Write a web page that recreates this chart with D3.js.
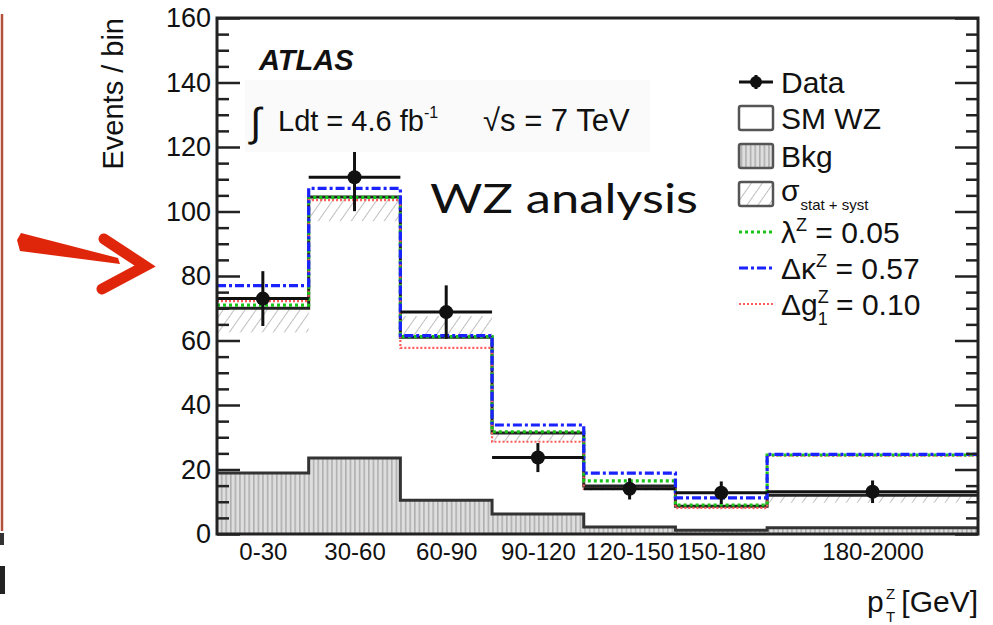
<!DOCTYPE html>
<html>
<head>
<meta charset="utf-8">
<script src="https://cdn.jsdelivr.net/npm/d3@7"></script>
<style>
  body { margin: 0; background: #fff; }
  svg { display: block; }
  text { font-family: "Liberation Sans", Arial, sans-serif; fill: #111; }
</style>
</head>
<body>
<div id="svg"></div>
<script>
// bins (drawn as equal width, except the last overflow bin)
var binLabels = ["0-30", "30-60", "60-90", "90-120", "120-150", "150-180", "180-2000"];
var binEdges  = [0, 1, 2, 3, 4, 5, 6, 8.3];

// values
var dataVals = [73, 110.6, 68.8, 23.7, 14, 12.8, 13.1];
var dataErr  = [8.5, 10.5, 8.3, 4.5, 3.3, 3.5, 3.5];
var smWZ     = [70, 104.5, 61, 31.3, 14.9, 8.6, 12];
var bkg      = [18.9, 23.6, 10.5, 6.2, 2.2, 1.2, 1.9];
var sigLow   = [62.5, 97, 61, 28.5, 13.5, 7.6, 9.7];
var sigHigh  = [70, 104.5, 67.6, 31.3, 15, 8.6, 11.8];
var lambdaZ  = [71, 104.4, 61.2, 31.7, 16.5, 9.0, 24.5];
var kappaZ   = [77, 107.2, 61.5, 33.8, 18.9, 11.2, 24.7];
var g1Z      = [72.2, 103.5, 57.7, 28.6, 14.0, 8.1, 24.3];

var yTicks = [0, 20, 40, 60, 80, 100, 120, 140, 160];

var width = 993, height = 625;
var frame = {left: 217, right: 978, top: 18, bottom: 534};

var svg = d3.select("#svg").append("svg")
    .attr("width", width)
    .attr("height", height);

var defs = svg.append("defs");

// vertical stripes for background
var pb = defs.append("pattern").attr("id", "bkgPat")
    .attr("patternUnits", "userSpaceOnUse")
    .attr("width", 4.6).attr("height", 10);
pb.append("rect").attr("width", 4.6).attr("height", 10).attr("fill", "#dedede");
pb.append("line").attr("x1", 0.8).attr("x2", 0.8).attr("y1", 0).attr("y2", 10)
    .attr("stroke", "#a8a8a8").attr("stroke-width", 1.4);

// diagonal hatch for the uncertainty band
var ph = defs.append("pattern").attr("id", "hatchPat")
    .attr("patternUnits", "userSpaceOnUse")
    .attr("width", 9).attr("height", 9)
    .attr("patternTransform", "rotate(35)");
ph.append("line").attr("x1", 0).attr("x2", 0).attr("y1", 0).attr("y2", 9)
    .attr("stroke", "#aaa").attr("stroke-width", 1.5);

var x = d3.scaleLinear()
    .domain([binEdges[0], binEdges[binEdges.length - 1]])
    .range([frame.left, frame.right]);

var y = d3.scaleLinear()
    .domain([0, 160])
    .range([frame.bottom, frame.top]);

// step points: one per bin edge, last value repeated
function steps(vals) {
    var pts = vals.map(function(v, i) { return [binEdges[i], v]; });
    pts.push([binEdges[binEdges.length - 1], vals[vals.length - 1]]);
    return pts;
}

var stepLine = d3.line()
    .x(function(d) { return x(d[0]); })
    .y(function(d) { return y(d[1]); })
    .curve(d3.curveStepAfter);

var stepArea = d3.area()
    .x(function(d) { return x(d[0]); })
    .y0(y(0))
    .y1(function(d) { return y(d[1]); })
    .curve(d3.curveStepAfter);

var plot = svg.append("g");

// background
plot.append("path")
    .datum(steps(bkg))
    .attr("d", stepArea)
    .attr("fill", "url(#bkgPat)");
plot.append("path")
    .datum(steps(bkg))
    .attr("d", stepLine)
    .attr("fill", "none")
    .attr("stroke", "#333")
    .attr("stroke-width", 3);

// stat + syst band
plot.selectAll(".band")
    .data(binLabels)
    .enter().append("rect")
    .attr("class", "band")
    .attr("x", function(d, i) { return x(binEdges[i]); })
    .attr("width", function(d, i) { return x(binEdges[i + 1]) - x(binEdges[i]); })
    .attr("y", function(d, i) { return y(sigHigh[i]); })
    .attr("height", function(d, i) { return y(sigLow[i]) - y(sigHigh[i]); })
    .attr("fill", "url(#hatchPat)");

// SM WZ
plot.append("path")
    .datum(steps(smWZ))
    .attr("d", stepLine)
    .attr("fill", "none")
    .attr("stroke", "#222")
    .attr("stroke-width", 3);

var anomalous = [
    {vals: g1Z, color: "#ff5a5a", w: 2.2, dash: "2,2"},
    {vals: lambdaZ, color: "#19c419", w: 3.2, dash: "3,3"},
    {vals: kappaZ, color: "#1a22ff", w: 3.2, dash: "9,3,3,3"}
];
anomalous.forEach(function(s) {
    plot.append("path")
        .datum(steps(s.vals))
        .attr("d", stepLine)
        .attr("fill", "none")
        .attr("stroke", s.color)
        .attr("stroke-width", s.w)
        .attr("stroke-dasharray", s.dash);
});

// data points
var pts = plot.selectAll(".pt")
    .data(dataVals)
    .enter().append("g")
    .attr("class", "pt");
pts.append("line")
    .attr("x1", function(d, i) { return x(binEdges[i]); })
    .attr("x2", function(d, i) { return x(binEdges[i + 1]); })
    .attr("y1", function(d) { return y(d); })
    .attr("y2", function(d) { return y(d); })
    .attr("stroke", "#111").attr("stroke-width", 3);
pts.append("line")
    .attr("x1", function(d, i) { return x((binEdges[i] + binEdges[i + 1]) / 2); })
    .attr("x2", function(d, i) { return x((binEdges[i] + binEdges[i + 1]) / 2); })
    .attr("y1", function(d, i) { return y(d + dataErr[i]); })
    .attr("y2", function(d, i) { return y(d - dataErr[i]); })
    .attr("stroke", "#111").attr("stroke-width", 3);
pts.append("circle")
    .attr("cx", function(d, i) { return x((binEdges[i] + binEdges[i + 1]) / 2); })
    .attr("cy", function(d) { return y(d); })
    .attr("r", 7)
    .attr("fill", "#111");

// luminosity box drawn over the histos, like the pave in the original
svg.append("rect")
    .attr("x", 245).attr("y", 80)
    .attr("width", 405).attr("height", 72)
    .attr("fill", "#fafafa");

// axes
var minorTicks = d3.range(0, 161, 5).filter(function(v) { return v % 20 !== 0; });

var yAxis = svg.append("g")
    .attr("transform", "translate(" + frame.left + ",0)")
    .call(d3.axisLeft(y).tickValues(yTicks).tickSize(-23).tickPadding(6));
yAxis.selectAll("text").style("font-size", "27px").attr("fill", "#111")
    .style("font-family", "Liberation Sans, Arial, sans-serif");
svg.append("g")
    .attr("transform", "translate(" + frame.left + ",0)")
    .call(d3.axisLeft(y).tickValues(minorTicks).tickSize(-12).tickFormat(""));
svg.append("g")
    .attr("transform", "translate(" + frame.right + ",0)")
    .call(d3.axisRight(y).tickValues(yTicks).tickSize(-23).tickFormat(""));
svg.append("g")
    .attr("transform", "translate(" + frame.right + ",0)")
    .call(d3.axisRight(y).tickValues(minorTicks).tickSize(-12).tickFormat(""));

var centers = binLabels.map(function(d, i) { return (binEdges[i] + binEdges[i + 1]) / 2; });
var xAxis = svg.append("g")
    .attr("transform", "translate(0," + frame.bottom + ")")
    .call(d3.axisBottom(x).tickValues(centers).tickSize(0).tickPadding(9)
        .tickFormat(function(d, i) { return binLabels[i]; }));
xAxis.selectAll("text").style("font-size", "24px").attr("fill", "#111")
    .style("font-family", "Liberation Sans, Arial, sans-serif");

svg.selectAll(".domain").remove();
svg.selectAll(".tick line").attr("stroke", "#222").attr("stroke-width", 2.5);

svg.append("rect")
    .attr("x", frame.left).attr("y", frame.top)
    .attr("width", frame.right - frame.left)
    .attr("height", frame.bottom - frame.top)
    .attr("fill", "none")
    .attr("stroke", "#222")
    .attr("stroke-width", 3);

// axis titles
svg.append("text")
    .attr("transform", "translate(123,18) rotate(-90)")
    .attr("text-anchor", "end")
    .style("font-size", "29px")
    .text("Events / bin");

svg.append("text").attr("x", 867).attr("y", 612).style("font-size", "30px").text("p");
svg.append("text").attr("x", 886).attr("y", 599).style("font-size", "15px").text("Z");
svg.append("text").attr("x", 886).attr("y", 622).style("font-size", "15px").text("T");
svg.append("text").attr("x", 978).attr("y", 612).attr("text-anchor", "end")
    .style("font-size", "30px").text("[GeV]");

// ATLAS label
svg.append("text").attr("x", 259).attr("y", 70)
    .style("font-size", "29px").style("font-weight", "bold").style("font-style", "italic")
    .text("ATLAS");

svg.append("text").attr("x", 250).attr("y", 136).style("font-size", "40px").text("\u222B");
svg.append("text").attr("x", 278).attr("y", 131).style("font-size", "29px").text("Ldt = 4.6 fb");
svg.append("text").attr("x", 424).attr("y", 118).style("font-size", "16px").text("-1");
svg.append("text").attr("x", 483).attr("y", 131).style("font-size", "31px").text("\u221As = 7 TeV");

// legend
var lg = svg.append("g");
var lx0 = 739, lx1 = 773, tx = 781;

lg.append("line").attr("x1", lx0).attr("x2", lx1).attr("y1", 82).attr("y2", 82)
    .attr("stroke", "#111").attr("stroke-width", 3);
lg.append("line").attr("x1", 756).attr("x2", 756).attr("y1", 75).attr("y2", 89)
    .attr("stroke", "#111").attr("stroke-width", 3);
lg.append("circle").attr("cx", 756).attr("cy", 82).attr("r", 6).attr("fill", "#111");

var boxes = [
    {y: 118, fill: "#fff"},
    {y: 156, fill: "url(#bkgPat)"},
    {y: 194, fill: "url(#hatchPat)"}
];
boxes.forEach(function(b) {
    lg.append("rect")
        .attr("x", lx0).attr("y", b.y - 12)
        .attr("width", lx1 - lx0).attr("height", 24)
        .attr("rx", 2)
        .attr("fill", b.fill)
        .attr("stroke", "#555").attr("stroke-width", 2.5);
});

var lineRows = [
    {y: 232, s: anomalous[1]},
    {y: 268, s: anomalous[2]},
    {y: 304, s: anomalous[0]}
];
lineRows.forEach(function(r) {
    lg.append("line").attr("x1", lx0).attr("x2", lx1).attr("y1", r.y).attr("y2", r.y)
        .attr("stroke", r.s.color).attr("stroke-width", r.s.w)
        .attr("stroke-dasharray", r.s.dash);
});

function legText(yc) {
    return lg.append("text").attr("x", tx).attr("y", yc + 11).style("font-size", "30px");
}
legText(82).text("Data");
legText(118).text("SM WZ");
legText(156).text("Bkg");
var sg = legText(190);
sg.append("tspan").text("\u03C3");
sg.append("tspan").style("font-size", "15px").attr("dy", 9).attr("dx", 1).text("stat + syst");

var t1 = legText(232);
t1.append("tspan").text("\u03BB");
t1.append("tspan").style("font-size", "18px").attr("dy", -12).text("Z");
t1.append("tspan").attr("dy", 12).text(" = 0.05");

var t2 = legText(268);
t2.append("tspan").text("\u0394\u03BA");
t2.append("tspan").style("font-size", "18px").attr("dy", -12).text("Z");
t2.append("tspan").attr("dy", 12).text(" = 0.57");

var t3 = legText(304);
t3.append("tspan").text("\u0394g");
t3.append("tspan").style("font-size", "18px").attr("dy", -12).text("Z");
t3.append("tspan").style("font-size", "18px").attr("dy", 22).attr("dx", -11).text("1");
t3.append("tspan").attr("dy", -10).text(" = 0.10");

// overlay annotation
svg.append("text")
    .attr("x", 430).attr("y", 213)
    .style("font-family", "Lato, 'Open Sans', sans-serif")
    .style("font-size", "40px")
    .attr("fill", "#000")
    .attr("textLength", 268)
    .attr("lengthAdjust", "spacingAndGlyphs")
    .text("WZ analysis");

// left margin remnants and red arrow
svg.append("line").attr("x1", 2).attr("x2", 2).attr("y1", 14).attr("y2", 531)
    .attr("stroke", "#b4513a").attr("stroke-width", 2.5);
svg.append("rect").attr("x", 0).attr("y", 533).attr("width", 4).attr("height", 12).attr("fill", "#333");
svg.append("rect").attr("x", 0).attr("y", 566).attr("width", 5).attr("height", 28).attr("fill", "#222");

svg.append("path")
    .attr("d", "M17,240 L21,233 L118,258 L120,264 L20,251 Z")
    .attr("fill", "#e0260a");
svg.append("path")
    .attr("d", "M104,239 L145,266 L102,289")
    .attr("fill", "none")
    .attr("stroke", "#e0260a")
    .attr("stroke-width", 11)
    .attr("stroke-linejoin", "miter")
    .attr("stroke-linecap", "round");
</script>
</body>
</html>
